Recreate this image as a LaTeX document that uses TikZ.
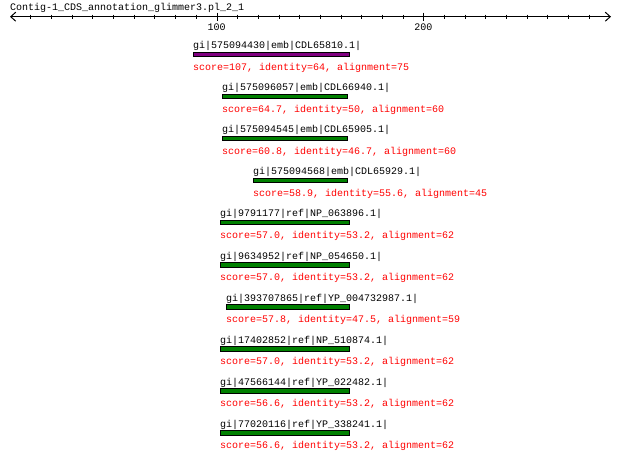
\documentclass[tikz,border=0pt]{standalone}
\usepackage{fontspec}
\setmonofont{Liberation Mono}
\usepackage{xcolor}
\usetikzlibrary{arrows.meta}
\definecolor{hitpurple}{HTML}{800080}
\definecolor{hitgreen}{HTML}{008000}
\definecolor{scorered}{HTML}{FF0000}
\tikzset{
  txt/.style={font=\ttfamily\fontsize{10}{12}\selectfont, inner sep=0pt, anchor=base west},
  scoretxt/.style={txt, text=scorered},
  hitbar/.style={draw=black, line width=1pt, fill=#1},
  barb/.tip={Straight Barb[length=5pt,width=9pt]},
}
\begin{document}
\begin{tikzpicture}[x=1pt, y=-1pt]
\useasboundingbox (0,0) rectangle (620,461);
% 绘制标尺
\node[txt] (title) at (10,10) {Contig-1\_CDS\_annotation\_glimmer3.pl\_2\_1};
\draw[barb-barb, line width=1pt] (10,16.7) -- (611,16.7);
\foreach \k in {1,...,28} {
  \draw (10+20.67*\k,14.7) -- ++(0,4);
}
\draw (216.7,12.7) -- ++(0,8);
\draw (423.3,12.7) -- ++(0,8);
% 标记刻度
\node[txt, anchor=base] (tick100) at (216.7,30.5) {100};
\node[txt, anchor=base] (tick200) at (423.3,30.5) {200};
% 绘制比对结果
\foreach [count=\i from 0] \xa/\xb/\col/\lab/\sc in {
  193/349/hitpurple/{gi|575094430|emb|CDL65810.1|}/{score=107, identity=64, alignment=75},
  222/347/hitgreen/{gi|575096057|emb|CDL66940.1|}/{score=64.7, identity=50, alignment=60},
  222/347/hitgreen/{gi|575094545|emb|CDL65905.1|}/{score=60.8, identity=46.7, alignment=60},
  253/347/hitgreen/{gi|575094568|emb|CDL65929.1|}/{score=58.9, identity=55.6, alignment=45},
  220/349/hitgreen/{gi|9791177|ref|NP\_063896.1|}/{score=57.0, identity=53.2, alignment=62},
  220/349/hitgreen/{gi|9634952|ref|NP\_054650.1|}/{score=57.0, identity=53.2, alignment=62},
  226/349/hitgreen/{gi|393707865|ref|YP\_004732987.1|}/{score=57.8, identity=47.5, alignment=59},
  220/349/hitgreen/{gi|17402852|ref|NP\_510874.1|}/{score=57.0, identity=53.2, alignment=62},
  220/349/hitgreen/{gi|47566144|ref|YP\_022482.1|}/{score=56.6, identity=53.2, alignment=62},
  220/349/hitgreen/{gi|77020116|ref|YP\_338241.1|}/{score=56.6, identity=53.2, alignment=62}} {
  \pgfmathsetmacro{\ytop}{52.5+42.04*\i}
  \node[txt] (lab\i) at (\xa,\ytop-3.7) {\lab};
  \draw[hitbar=\col] (\xa,\ytop) rectangle (\xb,\ytop+4.3);
  \node[scoretxt] (score\i) at (\xa,\ytop+17.7) {\sc};
}
\end{tikzpicture}
\end{document}
